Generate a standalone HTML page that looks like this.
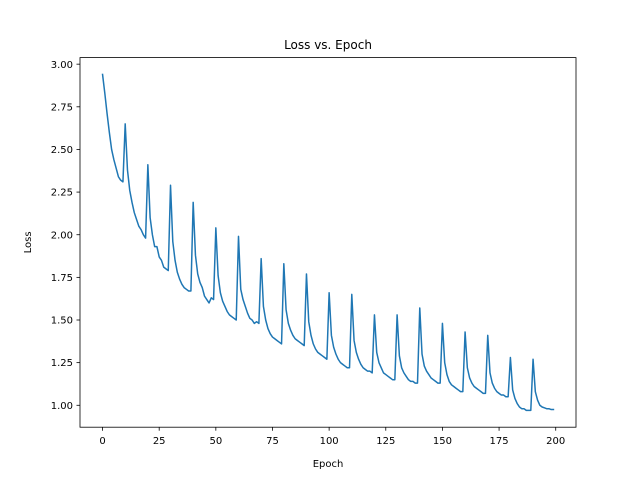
<!DOCTYPE html>
<html><head><meta charset="utf-8"><style>body{margin:0;background:#fff}svg{display:block}text{font-family:"DejaVu Sans","Liberation Sans",sans-serif;fill:#000}</style></head>
<body>
<svg id="chart" width="640" height="480"></svg>
<script>
const epochs = Array.from({length:200},(_,i)=>i);
const lossValues = [
2.94,2.83,2.71,2.60,2.50,2.44,2.39,2.34,2.32,2.31,
2.65,2.38,2.26,2.19,2.13,2.09,2.05,2.03,2.00,1.98,
2.41,2.10,2.00,1.93,1.93,1.87,1.85,1.81,1.80,1.79,
2.29,1.96,1.85,1.78,1.74,1.71,1.69,1.68,1.67,1.67,
2.19,1.88,1.77,1.72,1.69,1.64,1.62,1.60,1.63,1.62,
2.04,1.76,1.66,1.61,1.58,1.55,1.53,1.52,1.51,1.50,
1.99,1.68,1.62,1.58,1.54,1.51,1.50,1.48,1.49,1.48,
1.86,1.58,1.50,1.45,1.42,1.40,1.39,1.38,1.37,1.36,
1.83,1.56,1.48,1.44,1.41,1.39,1.38,1.37,1.36,1.35,
1.77,1.49,1.41,1.36,1.33,1.31,1.30,1.29,1.28,1.27,
1.66,1.41,1.34,1.30,1.27,1.25,1.24,1.23,1.22,1.22,
1.65,1.38,1.31,1.27,1.24,1.22,1.21,1.20,1.20,1.19,
1.53,1.31,1.25,1.22,1.19,1.18,1.17,1.16,1.15,1.15,
1.53,1.29,1.22,1.19,1.17,1.15,1.14,1.14,1.13,1.13,
1.57,1.30,1.23,1.20,1.18,1.16,1.15,1.14,1.13,1.13,
1.48,1.25,1.18,1.14,1.12,1.11,1.10,1.09,1.08,1.08,
1.43,1.22,1.16,1.13,1.11,1.10,1.09,1.08,1.07,1.07,
1.41,1.19,1.13,1.10,1.08,1.07,1.06,1.06,1.05,1.05,
1.28,1.09,1.04,1.01,0.99,0.98,0.98,0.97,0.97,0.97,
1.27,1.08,1.03,1.00,0.99,0.985,0.98,0.98,0.975,0.975];
const xTicks = [0,25,50,75,100,125,150,175,200];
const yTicks = [1.00,1.25,1.50,1.75,2.00,2.25,2.50,2.75,3.00];

const L=80,R=576,T=57.6,B=427.2;
const xmin0=Math.min(...epochs),xmax0=Math.max(...epochs);
const ymin0=Math.min(...lossValues),ymax0=Math.max(...lossValues);
const xm=(xmax0-xmin0)*0.05, ym=(ymax0-ymin0)*0.05;
const xs=v=>L+(v-(xmin0-xm))/((xmax0+xm)-(xmin0-xm))*(R-L);
const ys=v=>B-(v-(ymin0-ym))/((ymax0+ym)-(ymin0-ym))*(B-T);
const NS='http://www.w3.org/2000/svg', svg=document.getElementById('chart');
function mk(tag,attrs,parent){const e=document.createElementNS(NS,tag);for(const k in attrs)e.setAttribute(k,attrs[k]);(parent||svg).appendChild(e);return e;}

const line=mk('path',{d:lossValues.map((v,i)=>(i?'L':'M')+xs(epochs[i]).toFixed(2)+','+ys(v).toFixed(2)).join(''),fill:'none',stroke:'#1f77b4','stroke-width':1.5,'stroke-linejoin':'round','stroke-linecap':'square'});



const frame=mk('rect',{x:L,y:T,width:R-L,height:B-T,fill:'none',stroke:'#000','stroke-width':0.8});



xTicks.forEach(t=>{const x=xs(t);
 mk('line',{x1:x,x2:x,y1:B,y2:B+3.5,stroke:'#000','stroke-width':0.8});
 const tx=mk('text',{x:x,y:B+17,'font-size':10,'text-anchor':'middle'});tx.textContent=String(t);
 
 
});
yTicks.forEach(t=>{const y=ys(t);
 mk('line',{x1:L-3.5,x2:L,y1:y,y2:y,stroke:'#000','stroke-width':0.8});
 const tx=mk('text',{x:L-7,y:y+3.6,'font-size':10,'text-anchor':'end'});tx.textContent=t.toFixed(2);
 
 
});
const title=mk('text',{x:(L+R)/2,y:49,'font-size':12,'text-anchor':'middle'});title.textContent='Loss vs. Epoch';


const xl=mk('text',{x:(L+R)/2,y:467,'font-size':10,'text-anchor':'middle'});xl.textContent='Epoch';


const yl=mk('text',{x:0,y:0,'font-size':10,'text-anchor':'middle',transform:`translate(31,${(T+B)/2}) rotate(-90)`});yl.textContent='Loss';


</script>
</body></html>
